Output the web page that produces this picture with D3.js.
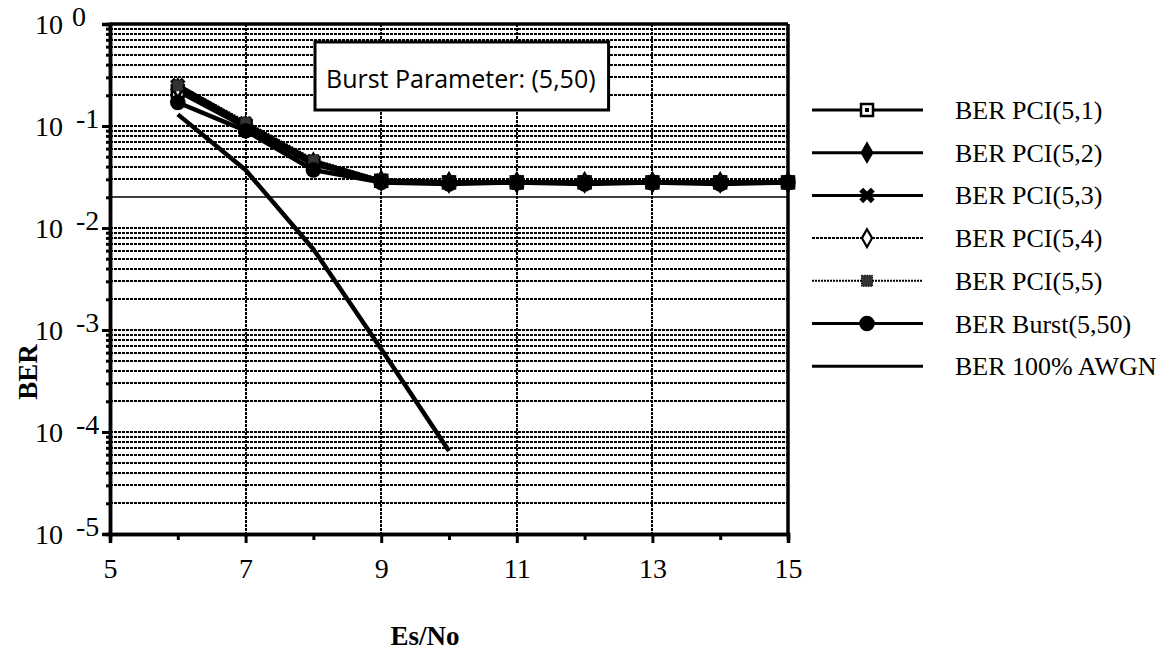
<!DOCTYPE html>
<html><head><meta charset="utf-8">
<script src="https://cdn.jsdelivr.net/npm/d3@7"></script>
<style>body{margin:0;background:#fff} svg{display:block}</style>
</head><body><svg id="chart" width="1175" height="652"></svg>
<script>
// Bit error rate versus Es/No for partial-channel-interleaved (PCI) bursts
const esNo = [6, 7, 8, 9, 10, 11, 12, 13, 14, 15];
const berPci51 = [0.22, 0.098, 0.042, 0.029, 0.028, 0.028, 0.028, 0.028, 0.028, 0.028];
const berPci52 = [0.23, 0.100, 0.043, 0.029, 0.028, 0.028, 0.028, 0.028, 0.028, 0.028];
const berPci53 = [0.25, 0.105, 0.045, 0.029, 0.028, 0.028, 0.028, 0.028, 0.028, 0.028];
const berPci54 = [0.235, 0.100, 0.044, 0.029, 0.028, 0.028, 0.028, 0.028, 0.028, 0.028];
const berPci55 = [0.25, 0.108, 0.046, 0.029, 0.028, 0.028, 0.028, 0.028, 0.028, 0.028];
const berBurst = [0.17, 0.090, 0.037, 0.028, 0.027, 0.028, 0.027, 0.028, 0.027, 0.028];
const esNoAwgn = [6, 7, 8, 9, 10];
const berAwgn = [0.13, 0.037, 0.0062, 0.00065, 0.000065];

const xMajorTicks = [5, 7, 9, 11, 13, 15];
const xMinorTicks = [6, 8, 10, 12, 14];
const xGridTicks = [7, 9, 11, 13];
const yDecades = [0, -1, -2, -3, -4, -5];
const seriesNames = ["BER PCI(5,1)", "BER PCI(5,2)", "BER PCI(5,3)", "BER PCI(5,4)",
                     "BER PCI(5,5)", "BER Burst(5,50)", "BER 100% AWGN"];
const boxText = "Burst Parameter: (5,50)";

const svg = d3.select("#chart");
const plotL = 110, plotR = 788, plotT = 24, plotB = 534;

const x = d3.scaleLinear().domain([5, 15]).range([plotL, plotR]);
const y = d3.scaleLog().domain([1e-5, 1]).range([plotB, plotT]);

const serif = "'Liberation Serif', 'Times New Roman', serif";

// horizontal grid at every log tick
const gridVals = y.ticks().filter(v => v > 1e-5 * 1.01 && v < 0.99);
const isSolid = d => Math.abs(d - 0.02) < 1e-9;
svg.append("g").selectAll("line").data(gridVals).join("line")
  .attr("x1", plotL).attr("x2", plotR)
  .attr("y1", d => Math.round(y(d))).attr("y2", d => Math.round(y(d)))
  .attr("stroke", "#000")
  .attr("stroke-width", d => isSolid(d) ? 1.6 : 2)
  .attr("stroke-dasharray", d => isSolid(d) ? null : "3,1");

// vertical grid at odd Es/No values
svg.append("g").selectAll("line").data(xGridTicks).join("line")
  .attr("x1", d => Math.round(x(d))).attr("x2", d => Math.round(x(d)))
  .attr("y1", plotT).attr("y2", plotB)
  .attr("stroke", "#000").attr("stroke-width", 2).attr("stroke-dasharray", "3,1");

// y axis: major and minor ticks
const yMinor = svg.append("g").attr("transform", `translate(${plotL},0)`)
  .call(d3.axisLeft(y).tickValues(gridVals.filter(v => Math.abs(Math.log10(v) % 1) > 1e-6)).tickSize(4).tickFormat(""));
const yMajor = svg.append("g").attr("transform", `translate(${plotL},0)`)
  .call(d3.axisLeft(y).tickValues(yDecades.map(e => Math.pow(10, e))).tickSize(8).tickFormat(""));
[yMinor, yMajor].forEach(g => {
  g.select(".domain").attr("stroke", "#000").attr("stroke-width", 3.5);
  g.selectAll(".tick line").attr("stroke", "#000").attr("stroke-width", 3);
});

// y labels: 10 with raised exponent
const yLab = svg.append("g").selectAll("text").data(yDecades).join("text")
  .attr("font-family", serif).attr("font-size", 28).attr("fill", "#000")
  .attr("y", d => y(Math.pow(10, d)) + 10);
yLab.append("tspan").attr("x", 35).text("10");
yLab.append("tspan").attr("x", d => d === 0 ? 72 : 76).attr("dy", -8)
  .text(d => d === 0 ? "0" : "-" + Math.abs(d));

// x axis
const xMinorAxis = svg.append("g").attr("transform", `translate(0,${plotB})`)
  .call(d3.axisBottom(x).tickValues(xMinorTicks).tickSize(6).tickFormat(""));
const xMajorAxis = svg.append("g").attr("transform", `translate(0,${plotB})`)
  .call(d3.axisBottom(x).tickValues(xMajorTicks).tickSize(9).tickPadding(15).tickFormat(d3.format("d")));
[xMinorAxis, xMajorAxis].forEach(g => {
  g.select(".domain").attr("stroke", "#000").attr("stroke-width", 3.5);
  g.selectAll(".tick line").attr("stroke", "#000").attr("stroke-width", 3);
});
xMajorAxis.selectAll(".tick text").attr("font-family", serif).attr("font-size", 28).attr("fill", "#000");

// frame top and right
svg.append("line").attr("x1", plotL).attr("x2", plotR).attr("y1", plotT).attr("y2", plotT)
  .attr("stroke", "#000").attr("stroke-width", 3.5);
svg.append("line").attr("x1", plotR).attr("x2", plotR).attr("y1", plotT).attr("y2", plotB)
  .attr("stroke", "#000").attr("stroke-width", 3.5);

// axis titles
svg.append("text").attr("x", 425).attr("y", 645).attr("text-anchor", "middle")
  .attr("font-family", serif).attr("font-weight", "bold").attr("font-size", 27).text("Es/No");
svg.append("text").attr("transform", "translate(37,372) rotate(-90)").attr("text-anchor", "middle")
  .attr("font-family", serif).attr("font-weight", "bold").attr("font-size", 27).text("BER");

// marker shapes
function marker(g, kind, cx, cy) {
  const s = g.append("g").attr("transform", `translate(${cx},${cy})`);
  if (kind === "square") {
    s.append("rect").attr("x", -6).attr("y", -6).attr("width", 12).attr("height", 12)
      .attr("fill", "#fff").attr("stroke", "#000").attr("stroke-width", 2.5);
    s.append("rect").attr("x", -2).attr("y", -2).attr("width", 4).attr("height", 4).attr("fill", "#000");
  } else if (kind === "diamond") {
    s.append("path").attr("d", d3.symbol(d3.symbolDiamond, 150)()).attr("fill", "#000");
  } else if (kind === "cross") {
    s.append("path").attr("d", d3.symbol(d3.symbolCross, 150)()).attr("transform", "rotate(45)").attr("fill", "#000");
  } else if (kind === "openDiamond") {
    s.append("path").attr("d", d3.symbol(d3.symbolDiamond, 90)()).attr("fill", "#fff")
      .attr("stroke", "#000").attr("stroke-width", 2.2);
  } else if (kind === "speckle") {
    s.append("path").attr("d", d3.symbol(d3.symbolSquare, 120)()).attr("fill", "#333")
      .attr("stroke", "#000").attr("stroke-width", 1).attr("stroke-dasharray", "1.5,1");
  } else if (kind === "circle") {
    s.append("path").attr("d", d3.symbol(d3.symbolCircle, 190)()).attr("fill", "#000");
  }
}

const series = [
  { name: seriesNames[0], xs: esNo, ys: berPci51, kind: "square", w: 4.5, dash: null, lw: 3 },
  { name: seriesNames[1], xs: esNo, ys: berPci52, kind: "diamond", w: 4.5, dash: null, lw: 3 },
  { name: seriesNames[2], xs: esNo, ys: berPci53, kind: "cross", w: 4.5, dash: null, lw: 3 },
  { name: seriesNames[3], xs: esNo, ys: berPci54, kind: "openDiamond", w: 3, dash: "3,1", lw: 2 },
  { name: seriesNames[4], xs: esNo, ys: berPci55, kind: "speckle", w: 4, dash: "2,1", lw: 2 },
  { name: seriesNames[5], xs: esNo, ys: berBurst, kind: "circle", w: 4.5, dash: null, lw: 3 },
  { name: seriesNames[6], xs: esNoAwgn, ys: berAwgn, kind: null, w: 4.5, dash: null, lw: 3 }
];

const line = d3.line().x(d => x(d[0])).y(d => y(d[1]));
const plot = svg.append("g");
series.forEach(s => {
  const pts = s.xs.map((v, i) => [v, s.ys[i]]);
  plot.append("path").attr("d", line(pts)).attr("fill", "none")
    .attr("stroke", "#000").attr("stroke-width", s.w).attr("stroke-linejoin", "round")
    .attr("stroke-dasharray", s.dash);
});
series.forEach(s => {
  if (!s.kind) return;
  s.xs.forEach((v, i) => marker(plot, s.kind, x(v), y(s.ys[i])));
});

// legend
const lg = svg.append("g");
const legY0 = 110, legDy = 42.7;
series.forEach((s, i) => {
  const ly = legY0 + i * legDy;
  lg.append("line").attr("x1", 812).attr("x2", 923).attr("y1", ly).attr("y2", ly)
    .attr("stroke", "#000").attr("stroke-width", s.lw).attr("stroke-dasharray", s.dash);
  if (s.kind) marker(lg, s.kind, 867, ly);
  lg.append("text").attr("x", 955).attr("y", ly + 9).attr("font-family", serif)
    .attr("font-size", 26).attr("fill", "#000").text(s.name);
});

// annotation box
const box = svg.append("g");
const rect = box.append("rect").attr("fill", "#fff").attr("stroke", "#000").attr("stroke-width", 3);
const bt = box.append("text").attr("x", 326).attr("y", 88).attr("font-family", "'Open Sans', sans-serif")
  .attr("font-size", 25).attr("fill", "#000").text(boxText);
const tw = bt.node().getComputedTextLength();
rect.attr("x", 315).attr("y", 42).attr("width", tw + 24).attr("height", 68);
</script></body></html>
